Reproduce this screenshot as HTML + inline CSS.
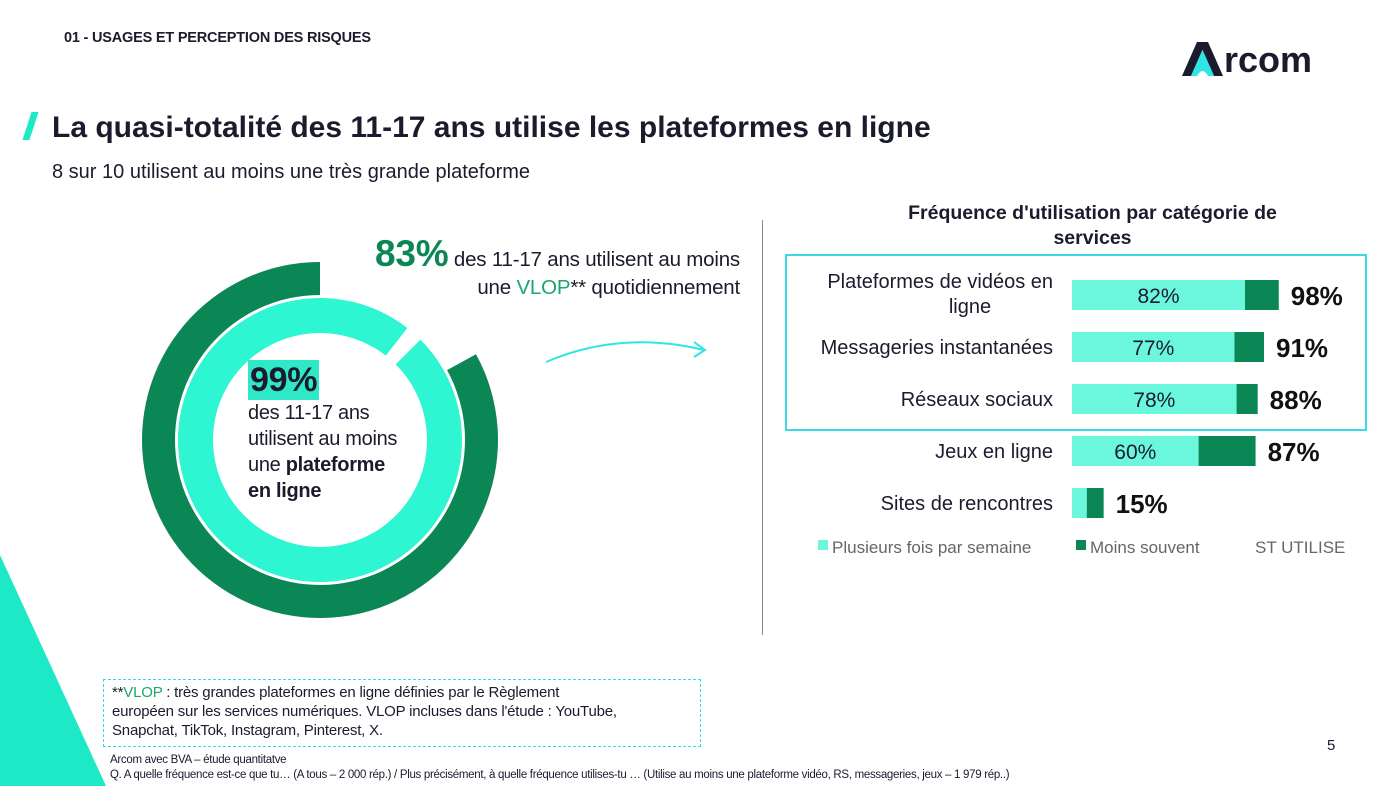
<!DOCTYPE html>
<html><head><meta charset="utf-8"><style>
body{margin:0;width:1400px;height:786px;overflow:hidden;background:#fff;font-family:"Liberation Sans",sans-serif;color:#1b1b2e;position:relative}
.a{position:absolute}
</style></head><body>
<div class="a" style="left:64px;top:30px;font-size:14.5px;font-weight:bold;letter-spacing:-0.2px">01 - USAGES ET PERCEPTION DES RISQUES</div>
<svg class="a" style="left:1180px;top:38px" width="160" height="44" viewBox="0 0 160 44">
<path d="M2 38 L17 4 L28 4 L43 38 L34 38 L22.5 12 L11 38 Z" fill="#1b1b2e"/>
<path d="M11 38 L22.5 12 L34 38 L28 38 Q22.5 28 17 38 Z" fill="#2ee6e6"/>
<text x="44" y="34" font-family="Liberation Sans" font-weight="bold" font-size="36" fill="#1b1b2e" letter-spacing="0">rcom</text>
</svg>
<div class="a" style="left:27px;top:112px;width:7px;height:28px;background:#1de9c6;transform:skewX(-18deg)"></div>
<div class="a" style="left:52px;top:111px;font-size:30px;font-weight:bold;letter-spacing:0px">La quasi-totalité des 11-17 ans utilise les plateformes en ligne</div>
<div class="a" style="left:52px;top:161px;font-size:20px;letter-spacing:0px">8 sur 10 utilisent au moins une très grande plateforme</div>

<svg class="a" id="donut" style="left:0;top:0" width="760" height="700"></svg>
<div class="a" style="left:340px;top:240px;width:400px;text-align:right;font-size:20.5px;line-height:28px;letter-spacing:-0.2px"><span style="color:#0a8754;font-weight:bold;font-size:37px">83%</span> des 11-17 ans utilisent au moins<br>une <span style="color:#17a86b">VLOP</span>** quotidiennement</div>
<div class="a" style="left:248px;top:360px;font-size:20px;line-height:26px;letter-spacing:-0.3px"><span style="background:#2ee8c8;font-weight:bold;font-size:34px;line-height:40px;display:inline-block;padding:0 2px">99%</span><br>des 11-17 ans<br>utilisent au moins<br>une <b>plateforme<br>en ligne</b></div>
<svg class="a" style="left:540px;top:330px" width="180" height="40"><path d="M6 32 Q80 0 164 20" fill="none" stroke="#2ee6e6" stroke-width="2"/><path d="M154 12 L165 20 L154 27" fill="none" stroke="#2ee6e6" stroke-width="2"/></svg>

<div class="a" style="left:762px;top:220px;width:1px;height:415px;background:#888"></div>
<div class="a" style="left:870px;top:201px;width:445px;text-align:center;font-size:19.5px;font-weight:bold;line-height:25px">Fréquence d'utilisation par catégorie de services</div>
<div class="a" style="left:785px;top:254px;width:578px;height:173px;border:2px solid #3ad9e8"></div>
<svg class="a" id="bars" style="left:780px;top:260px" width="600" height="310"></svg>

<div class="a" style="left:103px;top:679px;width:580px;height:60px;border:1px dashed #3ad9e8;padding:3px 8px;font-size:15px;line-height:19px;letter-spacing:-0.2px"><div style="width:560px">**<span style="color:#17a86b">VLOP</span> : très grandes plateformes en ligne définies par le Règlement<br>européen sur les services numériques. VLOP incluses dans l'étude : YouTube,<br>Snapchat, TikTok, Instagram, Pinterest, X.</div></div>
<div class="a" style="left:110px;top:753px;font-size:11.5px;line-height:15px;letter-spacing:-0.3px">Arcom avec BVA – étude quantitatve<br>Q. A quelle fréquence est-ce que tu… (A tous – 2 000 rép.) /  Plus précisément, à quelle fréquence utilises-tu … (Utilise au moins une plateforme vidéo, RS, messageries, jeux – 1 979 rép..)</div>
<div class="a" style="left:1327px;top:737px;font-size:15px">5</div>
<svg class="a" style="left:0;top:550px" width="110" height="236"><path d="M0 5 L106 236 L0 236 Z" fill="#1de9c6"/></svg>

<script>
const ringLabels=["VLOP quotidien","Plateforme en ligne"];
const ringValues=[83,99];
const categories=["Plateformes de vidéos en ligne","Messageries instantanées","Réseaux sociaux","Jeux en ligne","Sites de rencontres"];
const frequentValues=[82,77,78,60,7];
const totalValues=[98,91,88,87,15];
const frequentLabels=["82%","77%","78%","60%",""];
const legendLabels=["Plusieurs fois par semaine","Moins souvent","ST UTILISE"];
const NS="http://www.w3.org/2000/svg";
function mk(p,t,a){const e=document.createElementNS(NS,t);for(const k in a)e.setAttribute(k,a[k]);p.appendChild(e);return e;}
const d=document.getElementById('donut');const cx=320,cy=440;
function arc(r0,r1,a0,a1){const p=(r,a)=>[cx+r*Math.sin(a),cy-r*Math.cos(a)];const L=(a1-a0)>Math.PI?1:0;
const A=p(r1,a0),B=p(r1,a1),C=p(r0,a1),D=p(r0,a0);
return `M${A}A${r1},${r1} 0 ${L} 1 ${B}L${C}A${r0},${r0} 0 ${L} 0 ${D}Z`;}
const rings=[[145,178,'#0a8754'],[107,142,'#2ef5d2']];
ringValues.forEach((v,i)=>{const [r0,r1,c]=rings[i];
const start=i==0?(1-v/100)*2*Math.PI:(0.115+(1-v/100))*2*Math.PI;const end=i==0?2*Math.PI:(0.115+1)*2*Math.PI-0.06;
const e=mk(d,'path',{d:arc(r0,r1,start,end),fill:c});

});
const b=document.getElementById('bars');const x0=292,sc=2.11,bh=30;
const yRow=i=>20+i*52;
categories.forEach((c,i)=>{const y=yRow(i);
const lab=mk(b,'text',{x:273,'text-anchor':'end','font-size':20,fill:'#1b1b2e','font-family':'Liberation Sans'});


if(i==0){mk(lab,'tspan',{x:273,y:y+8}).textContent="Plateformes de vidéos en";mk(lab,'tspan',{x:190,y:y+33,'text-anchor':'middle'}).textContent="ligne";}
else{lab.setAttribute('y',y+22);lab.textContent=c;}
const f=frequentValues[i],t=totalValues[i];
const r1=mk(b,'rect',{x:x0,y:y,width:f*sc,height:bh,fill:'#6af7dc'});


const r2=mk(b,'rect',{x:x0+f*sc,y:y,width:(t-f)*sc,height:bh,fill:'#0a8754'});


if(frequentLabels[i]){const tx=mk(b,'text',{x:x0+f*sc/2,y:y+23,'text-anchor':'middle','font-size':21,fill:'#1b1b2e'});tx.textContent=frequentLabels[i];

}
const tt=mk(b,'text',{x:x0+t*sc+12,y:y+25,'font-size':26,'font-weight':'bold',fill:'#111'});tt.textContent=t+'%';

});
const lx=[38,296,475],lc=['#6af7dc','#0a8754',null];
legendLabels.forEach((l,i)=>{if(lc[i]){const s=mk(b,'rect',{x:lx[i],y:280,width:10,height:10,fill:lc[i]});

}
const t=mk(b,'text',{x:lx[i]+(lc[i]?14:0),y:293,'font-size':17,fill:'#666'});t.textContent=l;

});
</script>
</body></html>
